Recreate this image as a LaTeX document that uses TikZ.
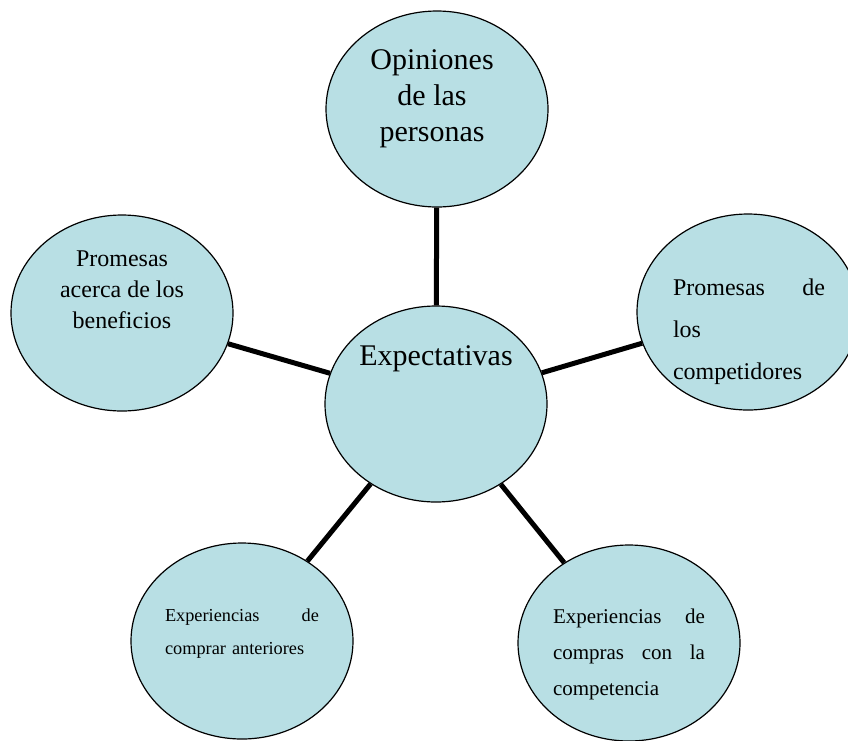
\documentclass[tikz,border=0pt]{standalone}
\usepackage{fontspec}
\setmainfont{Liberation Serif}
\usetikzlibrary{shapes.geometric}
\definecolor{bubblefill}{RGB}{184, 223, 228}

\begin{document}
\begin{tikzpicture}[x=1pt, y=-1pt,
    bubble/.style={ellipse, draw=black, line width=1.2pt, fill=bubblefill,
        minimum width=222pt, minimum height=196pt, inner sep=0pt},
    link/.style={line width=5pt},
    words/.style={inner sep=0pt}]

         \useasboundingbox (0,0) rectangle (848,740);
         \clip (0,0) rectangle (848,740);

         \node[bubble] (expect) at (436,404) {};
         \node[bubble] (opinion) at (437,109) {};
         \node[bubble] (benefit) at (122,313) {};
         \node[bubble] (rival) at (748,312) {};
         \node[bubble] (past) at (242,641) {};
         \node[bubble] (compet) at (629,643) {};

         \draw[link] (expect) -- (opinion);
         \draw[link] (expect) -- (benefit);
         \draw[link] (expect) -- (rival);
         \draw[link] (expect) -- (past);
         \draw[link] (expect) -- (compet);

         \node[words, font=\fontsize{30}{36}\selectfont, align=center] (opiniontext) at (432,99)
         {Opiniones\\de las\\personas};
         \node[words, font=\fontsize{30}{36}\selectfont] (expecttext) at (436,359)
         {Expectativas};
         \node[words, font=\fontsize{24}{31}\selectfont, align=center] (benefittext) at (122,290)
         {Promesas\\acerca de los\\beneficios};
         \node[words, font=\fontsize{24}{42}\selectfont, text width=152pt, align=left] (rivaltext) at (749,332)
         {\makebox[152pt][l]{Promesas\hfill de}\\los\\competidores};
         \node[words, font=\fontsize{18.3}{33}\selectfont, text width=154pt, align=left] (pasttext) at (242,634)
         {\makebox[154pt][l]{Experiencias\hfill de}\\comprar anteriores};
         \node[words, font=\fontsize{21}{36}\selectfont, text width=152pt, align=left] (compettext) at (629,654)
         {\makebox[152pt][l]{Experiencias\hfill de}\\\makebox[152pt][l]{compras\hfill con\hfill la}\\competencia};

     \end{tikzpicture}
\end{document}
